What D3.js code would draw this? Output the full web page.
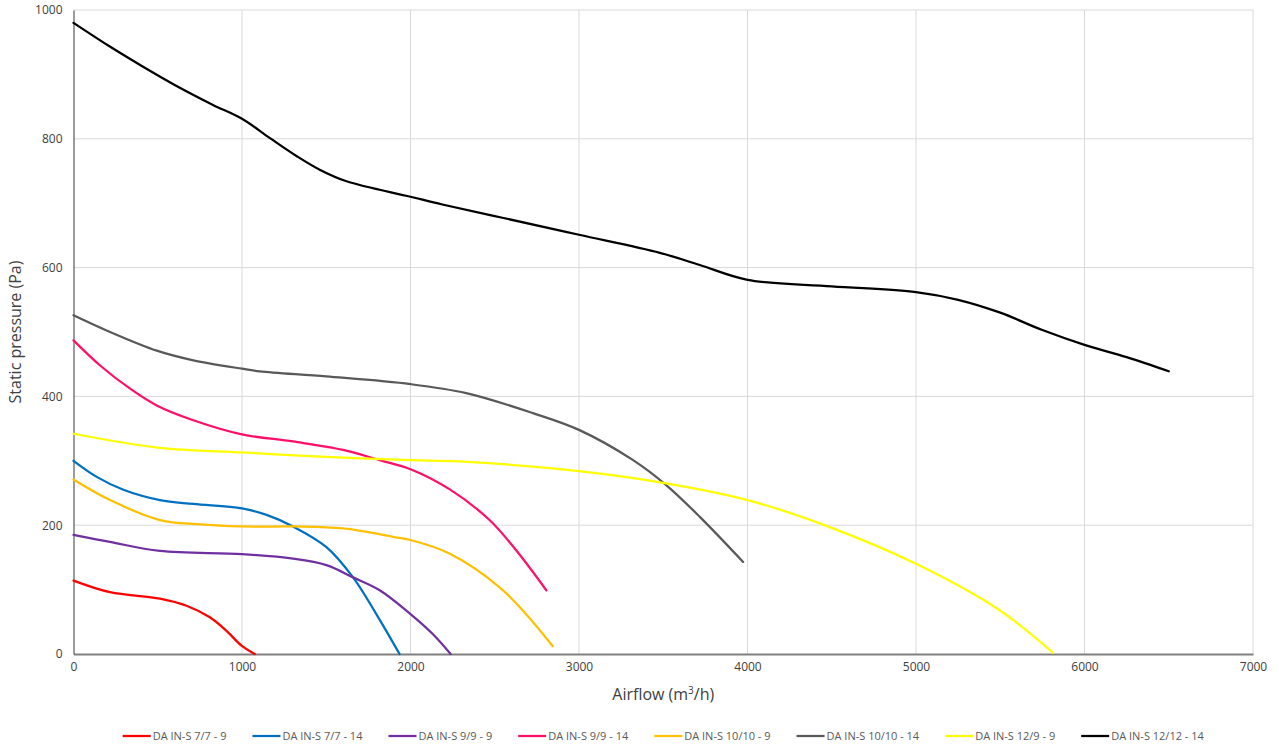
<!DOCTYPE html>
<html><head><meta charset="utf-8">
<script src="https://cdn.jsdelivr.net/npm/d3@7"></script>
<style>body{margin:0;background:#fff;}svg{display:block;font-family:"Open Sans",sans-serif;}</style>
</head><body><svg id="c" width="1279" height="749"></svg>
<script>
const seriesNames = ["DA IN-S 7/7 - 9","DA IN-S 7/7 - 14","DA IN-S 9/9 - 9","DA IN-S 9/9 - 14","DA IN-S 10/10 - 9","DA IN-S 10/10 - 14","DA IN-S 12/9 - 9","DA IN-S 12/12 - 14"];
const seriesColors = ["#ff0000","#0070c0","#7030a0","#ff0f6a","#ffc000","#595959","#ffff00","#000000"];
const xTicks = [0,1000,2000,3000,4000,5000,6000,7000];
const yTicks = [0,200,400,600,800,1000];

const s77_9 = [[0,114],[217,96],[513,86],[671,75],[809,57],[908,36],[997,13],[1076,0]];
const s77_14 = [[0,300],[138,275],[296,255],[513,239],[711,233],[1000,226],[1146,216],[1303,198],[1501,166],[1659,119],[1797,62],[1935,0]];
const s99_9 = [[0,185],[217,174],[513,160],[1000,155],[1303,148],[1501,138],[1659,119],[1817,99],[2000,62],[2132,31],[2238,0]];
const s99_14 = [[0,487],[158,448],[336,412],[494,386],[711,363],[1000,341],[1303,330],[1600,317],[1817,301],[2000,287],[2231,256],[2469,208],[2627,161],[2806,99]];
const s1010_9 = [[0,271],[217,239],[513,208],[711,202],[1000,198],[1303,198],[1600,195],[1896,182],[2000,177],[2231,156],[2527,104],[2685,62],[2844,12]];
const s1010_14 = [[0,526],[217,500],[494,471],[711,456],[1000,443],[1106,439],[1500,431],[2000,419],[2331,405],[2727,374],[3000,348],[3321,301],[3519,262],[3717,213],[3974,143]];
const s129_9 = [[0,342],[513,320],[1000,313],[1501,306],[2000,301],[2290,299],[3000,284],[3517,265],[4000,239],[4468,199],[5000,140],[5496,68],[5812,2]];
const s1212_14 = [[0,980],[211,944],[393,915],[598,884],[825,853],[1000,831],[1166,801],[1325,773],[1461,752],[1620,734],[2000,710],[2189,698],[2552,677],[3000,651],[3480,623],[3717,604],[4000,581],[4500,571],[5000,562],[5250,550],[5500,530],[5750,503],[6000,480],[6250,461],[6500,439]];
const allSeries = [s77_9,s77_14,s99_9,s99_14,s1010_9,s1010_14,s129_9,s1212_14];

const svg = d3.select("#c");
const L=73.5, R=1253, T=10, B=654;
const x = d3.scaleLinear().domain([0,7000]).range([L,R]);
const y = d3.scaleLinear().domain([0,1000]).range([B,T]);

// gridlines
svg.append("g").selectAll("line").data(xTicks.slice(1)).join("line")
  .attr("x1",d=>x(d)).attr("x2",d=>x(d)).attr("y1",T).attr("y2",B)
  .attr("stroke","#d9d9d9").attr("stroke-width",1);
svg.append("g").selectAll("line").data(yTicks.slice(1)).join("line")
  .attr("x1",L).attr("x2",R).attr("y1",d=>y(d)).attr("y2",d=>y(d))
  .attr("stroke","#d9d9d9").attr("stroke-width",1);

// axes
const xa = svg.append("g").attr("transform",`translate(0,${B})`)
  .call(d3.axisBottom(x).tickValues(xTicks).tickSize(0).tickPadding(8).tickFormat(d3.format("d")));
xa.select(".domain").attr("stroke","#808080").attr("stroke-width",2);
xa.selectAll("text").attr("fill","#404040").style("font-size","12px").style("font-family","Open Sans");
const ya = svg.append("g").attr("transform",`translate(${L},0)`)
  .call(d3.axisLeft(y).tickValues(yTicks).tickSize(0).tickPadding(11).tickFormat(d3.format("d")));
ya.select(".domain").attr("stroke","#595959").attr("stroke-width",1.2);
ya.selectAll("text").attr("fill","#404040").style("font-size","12px").style("font-family","Open Sans");

// lines
const line = d3.line().x(d=>x(d[0])).y(d=>y(d[1])).curve(d3.curveCatmullRom.alpha(0.5));
svg.append("g").selectAll("path").data(allSeries).join("path")
  .attr("d",line).attr("fill","none")
  .attr("stroke",(d,i)=>seriesColors[i]).attr("stroke-width",2.25)
  .attr("stroke-linejoin","round").attr("stroke-linecap","round");

// axis titles
const xt = svg.append("text").attr("x",(L+R)/2).attr("y",700).attr("text-anchor","middle")
  .attr("fill","#404040").style("font-size","16px");
xt.append("tspan").text("Airflow (m");
xt.append("tspan").text("3").attr("dy",-6).style("font-size","10px");
xt.append("tspan").text("/h)").attr("dy",6);
svg.append("text").attr("transform",`translate(21,${(T+B)/2}) rotate(-90)`).attr("text-anchor","middle")
  .attr("fill","#404040").style("font-size","16px").text("Static pressure (Pa)");

// legend
const lg = svg.append("g");
const items = lg.selectAll("g").data(seriesNames).join("g");
items.append("line").attr("x1",0).attr("x2",28).attr("y1",0).attr("y2",0)
  .attr("stroke",(d,i)=>seriesColors[i]).attr("stroke-width",2.25);
items.append("text").attr("x",30).attr("y",4).attr("fill","#595959").style("font-size","11px").text(d=>d);
const widths=[];
items.each(function(){ const w = 30 + this.querySelector("text").getComputedTextLength(); widths.push(w); });
const gap = 26;
const total = d3.sum(widths) + gap*(widths.length-1);
let cx = (L+R)/2 - total/2;
items.attr("transform",(d,i)=>{ const t=`translate(${cx},736)`; cx += widths[i]+gap; return t; });
</script></body></html>
